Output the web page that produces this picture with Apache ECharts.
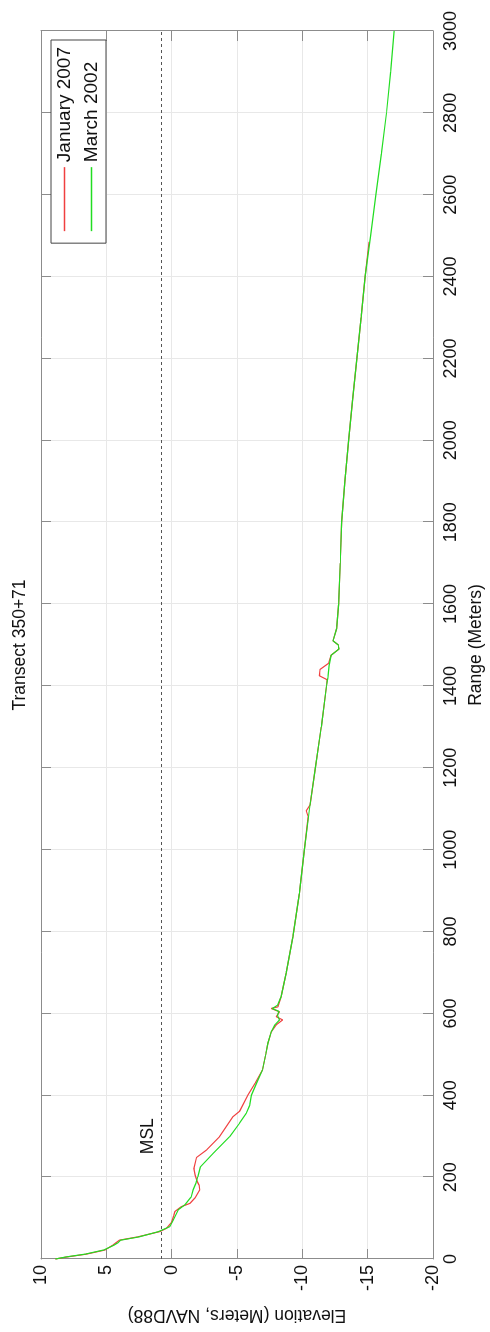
<!DOCTYPE html>
<html>
<head>
<meta charset="utf-8">
<script src="https://cdn.jsdelivr.net/npm/echarts@6/dist/echarts.min.js"></script>
<style>
html,body{margin:0;padding:0;background:#fff;overflow:hidden;width:490px;height:1332px;}
#chart{position:absolute;left:0;top:0;width:1332px;height:490px;transform-origin:0 0;transform:translate(0px,1332px) rotate(-90deg);}
</style>
</head>
<body>
<div id="chart"></div>
<script>
// ---- data ----
const titleText = 'Transect 350+71';
const xAxisName = 'Range (Meters)';
const yAxisName = 'Elevation (Meters, NAVD88)';
const seriesNames = ['January 2007', 'March 2002'];
const mslLevel = [0.8];
const mslLabelAt = [300];
const mslLabel = ['MSL'];

const rangeJan = [0, 5, 12, 22, 34, 46, 54, 67, 75, 90, 105, 116, 128, 136, 150, 169, 180, 190, 205, 221, 248, 266, 299, 348, 361, 401, 430, 462, 500, 527, 555, 572, 584, 592, 604, 612, 616, 641, 698, 787, 893, 1000, 1080, 1095, 1110, 1200, 1300, 1400, 1415, 1425, 1440, 1455, 1475, 1490, 1500, 1510, 1540, 1600, 1700, 1800, 1900, 2000, 2100, 2200, 2300, 2400, 2485];
const elevJan  = [8.9, 8.0, 6.5, 5.1, 4.5, 4.0, 2.6, 0.9, 0.4, 0.0, -0.15, -0.25, -0.75, -1.4, -1.8, -2.15, -2.1, -1.95, -1.8, -1.7, -1.9, -2.66, -3.67, -4.7, -5.2, -5.84, -6.4, -6.95, -7.2, -7.36, -7.62, -8.0, -8.5, -8.0, -8.25, -7.62, -8.13, -8.38, -8.76, -9.27, -9.78, -10.15, -10.45, -10.3, -10.6, -11.0, -11.45, -11.85, -11.9, -11.3, -11.35, -12.0, -12.2, -12.8, -12.75, -12.35, -12.63, -12.78, -12.9, -13.0, -13.25, -13.54, -13.85, -14.18, -14.5, -14.81, -15.1];

const rangeMar = [0, 5, 12, 22, 34, 40, 46, 54, 67, 79, 95, 120, 132, 152, 169, 185, 201, 225, 258, 299, 332, 356, 375, 400, 430, 462, 500, 527, 555, 572, 584, 595, 605, 612, 620, 641, 698, 787, 893, 1000, 1100, 1200, 1300, 1400, 1420, 1450, 1475, 1490, 1500, 1510, 1540, 1600, 1700, 1800, 1900, 2000, 2100, 2200, 2300, 2400, 2500, 2600, 2700, 2800, 2900, 3000];
const elevMar  = [8.9, 8.1, 6.6, 5.2, 4.4, 4.1, 3.9, 2.5, 1.0, 0.14, -0.12, -0.5, -1.0, -1.5, -1.64, -1.85, -2.0, -2.2, -3.17, -4.44, -5.2, -5.71, -5.97, -6.1, -6.5, -6.95, -7.2, -7.36, -7.62, -7.9, -8.25, -8.1, -8.2, -7.7, -8.1, -8.38, -8.76, -9.27, -9.78, -10.15, -10.55, -11.0, -11.45, -11.85, -11.95, -12.05, -12.2, -12.8, -12.75, -12.35, -12.63, -12.78, -12.9, -13.0, -13.25, -13.54, -13.85, -14.18, -14.5, -14.81, -15.22, -15.63, -16.05, -16.44, -16.75, -17.03];

// ---- chart ----
const FONT = '"Liberation Sans", Arial, Helvetica, sans-serif';
const pairs = (xs, ys) => xs.map((x, i) => [x, ys[i]]);
const axisLineStyle = { color: '#8c8c8c', width: 1 };
const plain = v => String(v);

const chart = echarts.init(document.getElementById('chart'), null, { renderer: 'canvas' });
chart.setOption({
  animation: false,
  backgroundColor: '#ffffff',
  textStyle: { fontFamily: FONT },
  title: {
    text: titleText,
    left: 682, top: 6, textAlign: 'center',
    textStyle: { fontFamily: FONT, fontSize: 17.5, fontWeight: 'normal', color: '#111' }
  },
  grid: { left: 73, right: 31, top: 41, bottom: 56, containLabel: false },
  legend: {
    data: seriesNames.map(n => ({ name: n, icon: 'rect' })),
    orient: 'vertical',
    right: 40, top: 51,
    backgroundColor: '#fff',
    borderColor: '#444', borderWidth: 1,
    padding: [4, 7, 5, 12],
    itemGap: 8,
    itemWidth: 64, itemHeight: 1.5,
    textStyle: { fontFamily: FONT, fontSize: 19, color: '#111' }
  },
  xAxis: [{
    type: 'value', min: 0, max: 3000, interval: 200,
    name: xAxisName, nameLocation: 'middle', nameGap: 34,
    nameTextStyle: { fontFamily: FONT, fontSize: 17.5, color: '#111' },
    axisLine: { show: true, onZero: false, lineStyle: axisLineStyle },
    axisTick: { show: true, inside: true, length: 10, lineStyle: axisLineStyle },
    axisLabel: { fontFamily: FONT, fontSize: 18, color: '#111', margin: 9, formatter: plain },
    splitLine: { show: true, lineStyle: { color: '#e8e8e8', width: 1 } }
  }, {
    type: 'value', min: 0, max: 3000, interval: 200, position: 'top',
    axisLine: { show: true, onZero: false, lineStyle: axisLineStyle },
    axisTick: { show: true, inside: true, length: 10, lineStyle: axisLineStyle },
    axisLabel: { show: false }, splitLine: { show: false }
  }],
  yAxis: [{
    type: 'value', min: -20, max: 10, interval: 5,
    name: yAxisName, nameLocation: 'middle', nameGap: 47,
    nameTextStyle: { fontFamily: FONT, fontSize: 17.5, color: '#111' },
    axisLine: { show: true, onZero: false, lineStyle: axisLineStyle },
    axisTick: { show: true, inside: true, length: 10, lineStyle: axisLineStyle },
    axisLabel: { fontFamily: FONT, fontSize: 18, color: '#111', margin: 6, formatter: plain },
    splitLine: { show: true, lineStyle: { color: '#e8e8e8', width: 1 } }
  }, {
    type: 'value', min: -20, max: 10, interval: 5, position: 'right',
    axisLine: { show: true, onZero: false, lineStyle: axisLineStyle },
    axisTick: { show: true, inside: true, length: 10, lineStyle: axisLineStyle },
    axisLabel: { show: false }, splitLine: { show: false }
  }],
  series: [{
    name: 'MSL', type: 'line', data: [], silent: true,
    markLine: {
      silent: true, symbol: 'none',
      lineStyle: { color: '#555', type: [3, 3], width: 1.2 },
      label: { show: false },
      data: [{ yAxis: mslLevel[0] }]
    },
    markPoint: {
      symbol: 'circle', symbolSize: 0,
      label: { show: true, position: 'top', distance: 4, formatter: mslLabel[0], fontFamily: FONT, fontSize: 17.5, color: '#111' },
      data: [{ coord: [mslLabelAt[0], mslLevel[0]] }]
    }
  }, {
    name: seriesNames[0], type: 'line', data: pairs(rangeJan, elevJan),
    symbol: 'none', color: '#f04040', lineStyle: { width: 1.2, color: '#f04040' }
  }, {
    name: seriesNames[1], type: 'line', data: pairs(rangeMar, elevMar),
    symbol: 'none', color: '#22dd22', lineStyle: { width: 1.2, color: '#22dd22' }
  }]
});
</script>
</body>
</html>
